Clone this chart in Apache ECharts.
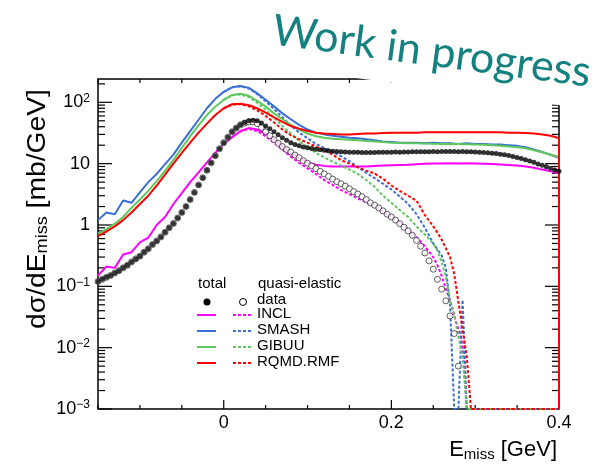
<!DOCTYPE html>
<html>
<head>
<meta charset="utf-8">
<script src="https://cdn.jsdelivr.net/npm/echarts@6/dist/echarts.min.js"></script>
<style>
  html, body { margin: 0; padding: 0; background: #fff; }
  #chart { width: 602px; height: 469px; }
</style>
</head>
<body>
<div id="chart"></div>
<script>
// Missing-energy spectra: total and quasi-elastic, data vs. transport models

const models = ['INCL', 'SMASH', 'GIBUU', 'RQMD.RMF'];

// Model histograms, bin centres every 10 MeV (GeV)
const emissModel = [
  -0.15, -0.14, -0.13, -0.12, -0.11, -0.10, -0.09, -0.08, -0.07, -0.06,
  -0.05, -0.04, -0.03, -0.02, -0.01, 0.00, 0.01, 0.02, 0.03, 0.04,
  0.05, 0.06, 0.07, 0.08, 0.09, 0.10, 0.11, 0.12, 0.13, 0.14,
  0.15, 0.16, 0.17, 0.18, 0.19, 0.20, 0.21, 0.22, 0.23, 0.24,
  0.25, 0.26, 0.27, 0.28, 0.29, 0.30, 0.31, 0.32, 0.33, 0.34,
  0.35, 0.36, 0.37, 0.38, 0.39, 0.40
];
const inclTotal = [
  0.15, 0.21, 0.2, 0.33, 0.36, 0.52, 0.62, 1.0, 1.35, 2.2,
  3.3, 5.0, 7.2, 10.5, 15, 21, 27, 34, 38, 36,
  31, 25, 19.5, 15, 12.3, 10.5, 9.6, 9.2, 9.0, 9.0,
  9.0, 9.0, 9.0, 9.2, 9.3, 9.4, 9.5, 9.6, 9.8, 10,
  10.1, 10.1, 10.2, 10.1, 10.2, 10.1, 10, 9.9, 9.7, 9.5,
  9.3, 9.0, 8.6, 8.0, 7.5, 7.0
];
const smashTotal = [
  1.2, 1.6, 1.5, 2.5, 2.3, 3.4, 5.0, 6.8, 9.8, 14,
  22, 34, 52, 80, 114, 148, 176, 185, 172, 140,
  110, 86, 66, 53, 43, 36, 32, 30, 28.5, 27.5,
  26.5, 26, 25, 24, 23, 22.5, 22, 22, 22, 21.5,
  22, 21.5, 21.5, 21, 21.5, 21, 21, 20.5, 20.5, 20,
  19.5, 18.5, 17, 15.5, 14, 12.5
];
const gibuuTotal = [
  0.72, 0.85, 1.05, 1.35, 1.9, 2.6, 3.6, 5.2, 7.6, 11.5,
  18, 28, 42, 62, 85, 110, 132, 138, 128, 106,
  85, 66, 53, 43, 36, 31, 28, 26.5, 25.5, 25,
  24.5, 24, 23.5, 23, 22.5, 22, 21.8, 21.5, 21.5, 21.3,
  21.2, 21, 21, 21, 20.8, 20.5, 20.3, 20, 19.5, 19,
  18.5, 17.8, 16.5, 15.3, 14, 12.8
];
const rqmdTotal = [
  0.66, 0.78, 0.95, 1.2, 1.6, 2.2, 3.0, 4.4, 6.6, 10,
  15, 22, 32, 45, 62, 80, 93, 95, 90, 80,
  68, 57, 48, 41, 37, 34, 32, 31, 30.5, 30,
  30, 30.5, 31, 31, 31.5, 32, 32, 32, 32, 32.5,
  32.5, 32.5, 32.5, 32.5, 32.5, 32.5, 32.5, 32.5, 32.5, 32,
  32, 31.5, 31, 30, 28.5, 26
];

// Quasi-elastic model histograms (empty bins sit on the axis floor)
const emissQE = [
  0.00, 0.01, 0.02, 0.03, 0.04, 0.05, 0.06, 0.07, 0.08, 0.09,
  0.10, 0.11, 0.12, 0.13, 0.14, 0.15, 0.16, 0.17, 0.18, 0.19,
  0.20, 0.21, 0.22, 0.23, 0.24, 0.25,
  0.255, 0.26, 0.265, 0.27, 0.275, 0.28, 0.285, 0.29, 0.295, 0.30,
  0.40
];
const inclQE = [
  21, 27, 33.5, 37, 34, 28, 22, 17, 13, 10.3,
  8.4, 6.8, 5.4, 4.5, 3.7, 3.2, 2.7, 2.35, 2.05, 1.7,
  1.35, 1.1, 0.85, 0.63, 0.45, 0.3,
  0.22, 0.15, 0.09, 0.06, 0.033, 0.02, 0.011, 0.001, 0.001, 0.001,
  0.001
];
const smashQE = [
  148, 176, 182, 168, 136, 104, 78, 57, 42, 32,
  26, 21, 18, 15.5, 13.2, 11, 8.8, 7.1, 5.8, 4.7,
  3.8, 2.9, 2.2, 1.5, 0.9, 0.5,
  0.4, 0.32, 0.2, 0.05, 0.001, 0.001, 0.06, 0.001, 0.001, 0.001,
  0.001
];
const gibuuQE = [
  110, 130, 134, 122, 98, 75, 56, 41, 31, 23.5,
  18.5, 15, 12.6, 10.8, 9.3, 8, 6.8, 5.4, 4.2, 3.0,
  2.3, 1.75, 1.35, 0.95, 0.7, 0.5,
  0.38, 0.25, 0.14, 0.06, 0.035, 0.015, 0.007, 0.001, 0.001, 0.001,
  0.001
];
const rqmdQE = [
  80, 92, 93, 86, 74, 60, 47, 36, 29, 25,
  22, 19, 16.5, 14, 11.4, 10, 8.7, 7.7, 6.9, 5.7,
  4.4, 3.6, 3.0, 2.5, 1.45, 0.95,
  0.75, 0.58, 0.42, 0.3, 0.16, 0.055, 0.02, 0.007, 0.001, 0.001,
  0.001
];

// Measured spectra, 5 MeV bins
const emissData = [
  -0.150, -0.145, -0.140, -0.135, -0.130, -0.125, -0.120, -0.115, -0.110, -0.105,
  -0.100, -0.095, -0.090, -0.085, -0.080, -0.075, -0.070, -0.065, -0.060, -0.055,
  -0.050, -0.045, -0.040, -0.035, -0.030, -0.025, -0.020, -0.015, -0.010, -0.005,
  0.000, 0.005, 0.010, 0.015, 0.020, 0.025, 0.030, 0.035, 0.040, 0.045,
  0.050, 0.055, 0.060, 0.065, 0.070, 0.075, 0.080, 0.085, 0.090, 0.095,
  0.100, 0.105, 0.110, 0.115, 0.120, 0.125, 0.130, 0.135, 0.140, 0.145,
  0.150, 0.155, 0.160, 0.165, 0.170, 0.175, 0.180, 0.185, 0.190, 0.195,
  0.200, 0.205, 0.210, 0.215, 0.220, 0.225, 0.230, 0.235, 0.240, 0.245,
  0.250, 0.255, 0.260, 0.265, 0.270, 0.275, 0.280, 0.285, 0.290, 0.295,
  0.300, 0.305, 0.310, 0.315, 0.320, 0.325, 0.330, 0.335, 0.340, 0.345,
  0.350, 0.355, 0.360, 0.365, 0.370, 0.375, 0.380, 0.385, 0.390, 0.395,
  0.400
];
const dataTotal = [
  0.12, 0.13, 0.14, 0.15, 0.165, 0.18, 0.2, 0.22, 0.25, 0.28,
  0.31, 0.36, 0.41, 0.48, 0.55, 0.64, 0.76, 0.9, 1.06, 1.3,
  1.6, 2.0, 2.6, 3.4, 4.5, 5.9, 7.8, 10.3, 13.5, 17.5,
  22, 27, 33, 38, 43, 47, 50, 51, 50, 46,
  41, 37, 33, 29.5, 26.5, 24, 22, 20.5, 19.5, 18.7,
  18.2, 17.6, 17.2, 16.8, 16.5, 16.2, 16, 15.8, 15.6, 15.5,
  15.4, 15.3, 15.3, 15.2, 15.2, 15.2, 15.2, 15.3, 15.3, 15.3,
  15.4, 15.5, 15.4, 15.5, 15.5, 15.6, 15.6, 15.7, 15.6, 15.7,
  15.8, 15.7, 15.8, 15.8, 15.8, 15.8, 15.7, 15.8, 15.7, 15.6,
  15.5, 15.4, 15.2, 15.0, 14.8, 14.6, 14.3, 14.0, 13.6, 13.1,
  12.6, 12.1, 11.6, 11.0, 10.5, 9.9, 9.4, 8.9, 8.4, 7.9,
  7.5
];
const dataQE = [
  0.12, 0.13, 0.14, 0.15, 0.165, 0.18, 0.2, 0.22, 0.25, 0.28,
  0.31, 0.36, 0.41, 0.48, 0.55, 0.64, 0.76, 0.9, 1.06, 1.3,
  1.6, 2.0, 2.6, 3.4, 4.5, 5.9, 7.8, 10.3, 13.5, 17.5,
  22, 27, 33, 38, 43, 46, 48, 48, 45, 39,
  33, 28.5, 24.5, 21.5, 19, 17, 15.5, 13.8, 12.5, 11.2,
  10.2, 9.2, 8.3, 7.5, 6.8, 6.2, 5.6, 5.1, 4.7, 4.3,
  3.9, 3.5, 3.2, 2.9, 2.6, 2.3, 2.1, 1.9, 1.7, 1.5,
  1.35, 1.2, 1.05, 0.92, 0.8, 0.68, 0.56, 0.45, 0.35, 0.26,
  0.19, 0.13, 0.09, 0.058, 0.033, 0.017, 0.005
];

// Axis ranges and tick values
const xMin = -0.15, xMax = 0.4, xStep = 0.05;
const yMin = 0.001, yMax = 240;
const xTickLabels = [0, 0.2, 0.4];
const xMinorTicks = [-0.15, -0.1, -0.05, 0, 0.05, 0.1, 0.15, 0.2, 0.25, 0.3, 0.35, 0.4];
const yDecades = [0.001, 0.01, 0.1, 1, 10, 100];
const yMinorMantissas = [2, 3, 4, 5, 6, 7, 8, 9];

const FONT = '"Liberation Sans", Arial, Helvetica, sans-serif';
const colors = { INCL: '#ff00ff', SMASH: '#3a6fd4', GIBUU: '#5ec85e', 'RQMD.RMF': '#ff0000' };
const totals = { INCL: inclTotal, SMASH: smashTotal, GIBUU: gibuuTotal, 'RQMD.RMF': rqmdTotal };
const quasi = { INCL: inclQE, SMASH: smashQE, GIBUU: gibuuQE, 'RQMD.RMF': rqmdQE };

function pairs(xs, ys) { return ys.map((y, i) => [xs[i], y]); }

const chart = echarts.init(document.getElementById('chart'));

const modelSeries = [];
models.forEach(name => {
  // the histogram outline drops to the axis floor at the upper edge
  const totalData = pairs(emissModel, totals[name]).concat([[xMax, yMin]]);
  modelSeries.push({
    name: name + ' total', type: 'line', data: totalData, showSymbol: false,
    lineStyle: { color: colors[name], width: 2 }, z: 3
  });
  modelSeries.push({
    name: name + ' quasi-elastic', type: 'line', data: pairs(emissQE, quasi[name]), showSymbol: false,
    lineStyle: { color: colors[name], width: 2, type: [3, 2] }, z: 3
  });
});

const sup = s => '{sup|' + s + '}';
function yLabel(v) {
  const e = Math.log10(v);
  const n = Math.round(e);
  if (Math.abs(e - n) > 1e-6) return '';
  if (n === 0) return '1';
  if (n === 1) return '10';
  return '10' + sup(n < 0 ? '\u2212' + (-n) : String(n));
}

const legendRowsY = [315, 331, 347, 363];
const legendFont = '15px ' + FONT;
const legendGraphics = [
  { type: 'text', x: 198, y: 284, style: { text: 'total', font: legendFont, fill: '#000', align: 'left', verticalAlign: 'middle' } },
  { type: 'text', x: 258, y: 284, style: { text: 'quasi-elastic', font: legendFont, fill: '#000', align: 'left', verticalAlign: 'middle' } },
  { type: 'circle', shape: { cx: 207, cy: 302, r: 3.5 }, style: { fill: '#000' } },
  { type: 'circle', shape: { cx: 243, cy: 302, r: 3.5 }, style: { fill: '#fff', stroke: '#000', lineWidth: 1 } },
  { type: 'text', x: 257, y: 300, style: { text: 'data', font: legendFont, fill: '#000', align: 'left', verticalAlign: 'middle' } }
];
models.forEach((name, i) => {
  const y = legendRowsY[i];
  legendGraphics.push(
    { type: 'line', shape: { x1: 197, y1: y, x2: 216, y2: y }, style: { stroke: colors[name], lineWidth: 2 } },
    { type: 'line', shape: { x1: 233, y1: y, x2: 253, y2: y }, style: { stroke: colors[name], lineWidth: 2, lineDash: [3, 2] } },
    { type: 'text', x: 257, y: y - 1, style: { text: name, font: legendFont, fill: '#000', align: 'left', verticalAlign: 'middle' } }
  );
});

const titleGraphics = [
  { type: 'text', x: 38, y: 209, rotation: Math.PI / 2, scaleX: 1.13, z: 10,
    style: {
      text: '{m|d\u03c3/dE}{s|miss}{m| [mb/GeV]}', align: 'center', verticalAlign: 'middle',
      rich: {
        m: { fontFamily: FONT, fontSize: 25, lineHeight: 26, fill: '#000' },
        s: { fontFamily: FONT, fontSize: 16, lineHeight: 8, verticalAlign: 'bottom', fill: '#000' }
      }
    } },
  { type: 'text', x: 557, y: 450, z: 10,
    style: {
      text: '{m|E}{s|miss}{m| [GeV]}', align: 'right', verticalAlign: 'middle',
      rich: {
        m: { fontFamily: FONT, fontSize: 22, lineHeight: 24, fill: '#000' },
        s: { fontFamily: FONT, fontSize: 15, lineHeight: 8, verticalAlign: 'bottom', fill: '#000' }
      }
    } }
];
const stampGraphic = { type: 'text', x: 269, y: 30, rotation: -0.133, z: 100,
  style: {
    text: 'Work in progress', font: '43px Lato, "Open Sans", sans-serif', fill: '#12817f',
    align: 'left', verticalAlign: 'middle', backgroundColor: '#fff', padding: [0, 8, 29, 4]
  } };

function xAxisDef(position, showLabels) {
  return {
    type: 'value', position: position, min: xMin, max: xMax, interval: xStep,
    axisLine: { show: false, onZero: false },
    axisTick: { show: false },
    splitLine: { show: false },
    axisLabel: {
      show: showLabels, fontFamily: FONT, fontSize: 18, color: '#000', margin: 5,
      formatter: v => {
        const t = xTickLabels.find(t => Math.abs(t - v) < 1e-6);
        return t === undefined ? '' : String(t);
      }
    }
  };
}
function yAxisDef(position, showLabels) {
  return {
    type: 'log', logBase: 10, min: yMin, max: yMax, position: position,
    axisLine: { show: false, onZero: false },
    axisTick: { show: false },
    splitLine: { show: false },
    axisLabel: {
      show: showLabels, fontFamily: FONT, fontSize: 18, color: '#000', margin: 8, lineHeight: 20,
      formatter: yLabel,
      rich: { sup: { fontFamily: FONT, fontSize: 12, lineHeight: 12, verticalAlign: 'top', color: '#000' } }
    }
  };
}

chart.setOption({
  animation: false,
  backgroundColor: '#fff',
  grid: { left: 98, right: 43, top: 79, bottom: 60, containLabel: false },
  xAxis: [xAxisDef('bottom', true), xAxisDef('top', false)],
  yAxis: [yAxisDef('left', true), yAxisDef('right', false)],
  series: modelSeries.concat([
    {
      name: 'data quasi-elastic', type: 'scatter', data: pairs(emissData, dataQE),
      symbol: 'circle', symbolSize: 6, z: 4,
      itemStyle: { color: '#fff', borderColor: '#222', borderWidth: 0.9 }
    },
    {
      name: 'data total', type: 'scatter', data: pairs(emissData, dataTotal),
      symbol: 'circle', symbolSize: 5, z: 5,
      itemStyle: { color: '#000' }
    }
  ])
});

// Frame and tick marks, placed through the chart's own axis scales
const toPx = (x, y) => chart.convertToPixel({ gridIndex: 0 }, [x, y]);
const frameGraphics = [];
const tick = (x1, y1, x2, y2) => frameGraphics.push({
  type: 'line', z: 1, silent: true,
  shape: { x1: x1, y1: y1, x2: x2, y2: y2 }, style: { stroke: '#000', lineWidth: 1.2 }
});
const cornerLo = toPx(xMin, yMin), cornerHi = toPx(xMax, yMax);
const frameL = cornerLo[0], frameB = cornerLo[1], frameR = cornerHi[0], frameT = cornerHi[1];
frameGraphics.push({
  type: 'rect', z: 1, silent: true,
  shape: { x: frameL, y: frameT, width: frameR - frameL, height: frameB - frameT },
  style: { fill: 'none', stroke: '#000', lineWidth: 1.5 }
});
xMinorTicks.forEach(v => {
  const px = toPx(v, yMin)[0];
  const major = xTickLabels.some(t => Math.abs(t - v) < 1e-9);
  tick(px, frameB, px, frameB - (major ? 9 : 4));
  tick(px, frameT, px, frameT + 4);
});
yDecades.forEach(d => {
  const py = toPx(xMin, d)[1];
  tick(frameL, py, frameL + 14, py);
  tick(frameR, py, frameR - 14, py);
  yMinorMantissas.forEach(m => {
    const v = d * m;
    if (v >= yMax) return;
    const pm = toPx(xMin, v)[1];
    tick(frameL, pm, frameL + 7, pm);
    tick(frameR, pm, frameR - 7, pm);
  });
});
chart.setOption({ graphic: legendGraphics.concat(titleGraphics, frameGraphics, [stampGraphic]) });
</script>
</body>
</html>
